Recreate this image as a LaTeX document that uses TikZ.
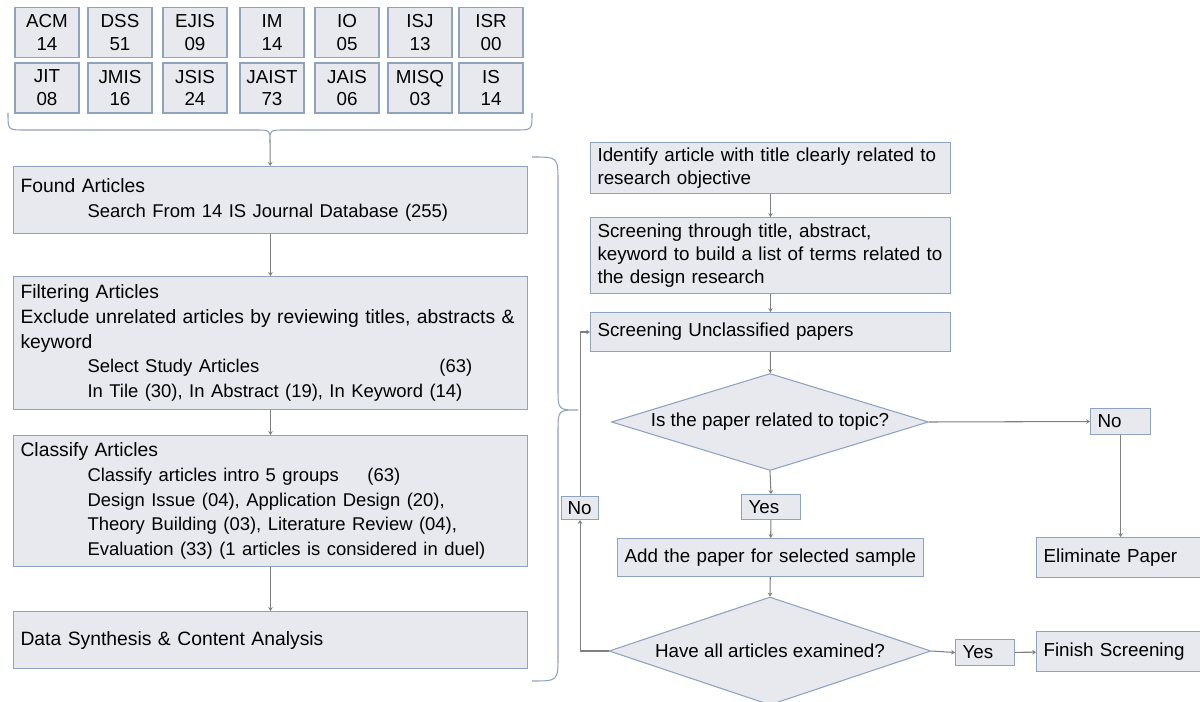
\documentclass[tikz,border=0pt]{standalone}
\usepackage{fontspec}
\setmainfont{Liberation Sans}
\usetikzlibrary{shapes.geometric, arrows.meta}
\definecolor{boxfill}{RGB}{232,233,238}
\definecolor{boxline}{RGB}{143,162,190}
\definecolor{linegray}{RGB}{128,128,128}
\newcommand{\leftfont}{\fontsize{11pt}{14pt}\selectfont}
\newcommand{\subfont}{\fontsize{10.5pt}{14pt}\selectfont}
\newcommand{\rightfont}{\fontsize{10.7pt}{13pt}\selectfont}
\hyphenpenalty=10000
\exhyphenpenalty=10000
\tikzstyle{journal} = [rectangle, draw=boxline, fill=boxfill, line width=0.6pt, minimum width=1.28cm, minimum height=1cm, inner sep=0pt, align=center, font=\rightfont]
\tikzstyle{process} = [rectangle, draw=boxline, fill=boxfill, line width=0.6pt, anchor=north west, inner xsep=0.14cm, inner ysep=0pt, align=left, font=\leftfont]
\tikzstyle{stage} = [process, inner xsep=0.14cm, font=\rightfont]
\tikzstyle{tag} = [stage, minimum height=0.5cm]
\tikzstyle{decision} = [diamond, aspect=3, draw=boxline, fill=boxfill, line width=0.6pt, inner sep=0pt, align=center, font=\rightfont]
\tikzstyle{arrow} = [draw=linegray, line width=0.6pt, -{Stealth[length=2.2pt, width=2.6pt]}]
\tikzstyle{curly} = [draw=boxline, line width=0.6pt]

\begin{document}
\begin{tikzpicture}[x=0.02cm, y=-0.02cm]
        \path[use as bounding box, fill=white] (0,0) rectangle (1200,702);
        \clip (0,0) rectangle (1200,702);
        % journals
        \foreach \xc/\jtop/\ntop/\jbot/\nbot [count=\i] in {47/ACM/14/JIT/08, 120/DSS/51/JMIS/16, 195/EJIS/09/JSIS/24, 272/IM/14/JAIST/73, 347/IO/05/JAIS/06, 420/ISJ/13/MISQ/03, 491/ISR/00/IS/14} {
          \node (jt\i) [journal] at (\xc,32.5) {\jtop\\\ntop};
          \node (jb\i) [journal] at (\xc,88) {\jbot\\\nbot};
        }
        \draw [curly] (8,113) .. controls (8,130) .. (24,130) -- (254,130) .. controls (270,130) .. (270,140)
              .. controls (270,130) .. (286,130) -- (516,130) .. controls (532,130) .. (532,113);
        \coordinate (tip) at (270,140);

        % left column
        \node (found) [process, text width=10cm, minimum height=1.34cm] at (13,166) {Found Articles\\
          \hspace*{1.34cm}{\subfont Search From 14 IS Journal Database (255)}};
        \node (filter) [process, text width=10cm, minimum height=2.66cm] at (13,276) {Filtering Articles\\
          Exclude unrelated articles by reviewing titles, abstracts \&\\
          keyword\\
          \hspace*{1.34cm}{\subfont\makebox[7.04cm][l]{Select Study Articles}(63)}\\
          \hspace*{1.34cm}{\subfont In Tile (30), In Abstract (19), In Keyword (14)}};
        \node (classify) [process, text width=10cm, minimum height=2.62cm] at (13,435) {Classify Articles\\
          \hspace*{1.34cm}{\subfont\makebox[5.6cm][l]{Classify articles intro 5 groups}(63)}\\
          \hspace*{1.34cm}{\subfont Design Issue (04), Application Design (20),}\\
          \hspace*{1.34cm}{\subfont Theory Building (03), Literature Review (04),}\\
          \hspace*{1.34cm}{\subfont Evaluation (33) (1 articles is considered in duel)}};
        \node (data) [process, text width=10cm, minimum height=1.14cm] at (13,611) {Data Synthesis \& Content Analysis};
        \draw [curly] (532,157) .. controls (558,157) .. (558,182) -- (558,388) .. controls (558,410) .. (578,410)
              .. controls (558,410) .. (558,432) -- (558,656) .. controls (558,681) .. (532,681);

        % right column
        \node (ident) [stage, text width=6.92cm, minimum height=1.02cm] at (590,142) {Identify article with title clearly related to\\research objective};
        \node (screen) [stage, text width=6.92cm, minimum height=1.52cm] at (590,217) {Screening through title, abstract,\\keyword to build a list of terms related to\\the design research};
        \node (unclass) [stage, text width=6.92cm, minimum height=0.78cm] at (590,312) {Screening Unclassified papers};
        \node (d1) [decision, minimum width=6.34cm, minimum height=1.8cm] at (770,422) {Is the paper related to topic?};
        \node (noR) [tag, text width=0.92cm, minimum height=0.52cm] at (1090,408) {No};
        \node (elim) [stage, text width=3.72cm, minimum height=0.8cm] at (1036,537) {Eliminate Paper};
        \node (yesA) [tag, text width=0.9cm] at (741,494) {Yes};
        \node (add) [stage, text width=5.84cm, minimum height=0.76cm] at (617,538) {Add the paper for selected sample};
        \node (d2) [decision, minimum width=6.44cm, minimum height=2.16cm] at (770,651) {Have all articles examined?};
        \node (yesB) [tag, text width=0.9cm, minimum height=0.52cm] at (955,639) {Yes};
        \node (finish) [stage, text width=3.72cm, minimum height=0.8cm] at (1036,631) {Finish Screening};
        \node (noL) [tag, inner xsep=0.12cm, text width=0.5cm, minimum height=0.46cm] at (561,496) {No};

        \draw [arrow] (tip) -- (found);
        \draw [arrow] (found) -- (filter);
        \draw [arrow] (filter) -- (classify);
        \draw [arrow] (classify) -- (data);
        \draw [arrow] (ident) -- (screen);
        \draw [arrow] (screen) -- (unclass);
        \draw [arrow] (unclass) -- (d1);
        \draw [arrow] (d1.east) -- (noR.west);
        \draw [arrow] (noR.south) -- (noR.south |- elim.north);
        \draw [arrow] (d1.south) -- (yesA.north);
        \draw [arrow] (yesA) -- (add);
        \draw [arrow] (add) -- (d2.north);
        \draw [arrow] (d2.east) -- (yesB.west);
        \draw [arrow] (yesB) -- (finish);
        \draw [arrow] (d2.west) -| (noL.south);
        \draw [arrow] (noL.north) |- (unclass.west);

      \end{tikzpicture}
\end{document}
